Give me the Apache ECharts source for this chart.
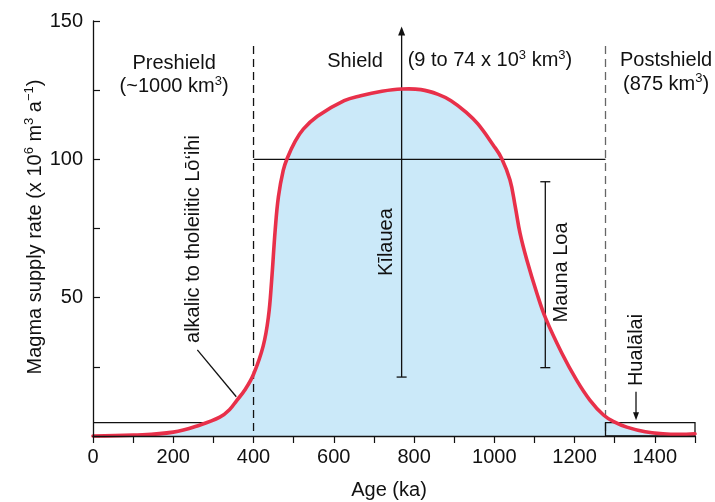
<!DOCTYPE html>
<html><head><meta charset="utf-8">
<script src="https://cdn.jsdelivr.net/npm/echarts@6/dist/echarts.min.js"></script>
<style>html,body{margin:0;padding:0;background:#fff}#chart{width:715px;height:502px}</style>
</head><body><div id="chart"></div>
<script>
// ---- data ----
const ages  = [0, 100, 200, 267, 316, 340, 358, 380, 400, 424, 437, 445, 454, 462, 474, 484, 503, 524, 559, 626, 667, 720, 769, 817, 860, 892, 930, 959, 997, 1018, 1039, 1052, 1064, 1081, 1106, 1128, 1168, 1205, 1238, 1272, 1300, 1330, 1376, 1420, 1460, 1500];
const rates = [0, 0.3, 1.4, 4.0, 6.8, 9.5, 12.8, 17.0, 22.3, 32.5, 43, 56, 74.5, 86.5, 96, 100.4, 106.3, 110.9, 115.6, 121.2, 123, 124.6, 125.4, 125.2, 123.5, 121.2, 117, 112.8, 105.2, 100.4, 92.5, 83, 73.3, 63.6, 51.6, 42.5, 30, 20.2, 13, 7.6, 5, 3.2, 1.5, 0.8, 0.6, 0.8];
const xTickLabels = ['0', '200', '400', '600', '800', '1000', '1200', '1400'];
const yTickLabels = ['50', '100', '150'];
const phaseBoundaries = [400, 1277];      // ka: preshield/shield, shield/postshield
const phaseLineTop = 141;                 // rate at top of dashed lines
const shieldRate = 100;                   // horizontal line across shield stage
const preshieldBox = [0, 400, 4.8];       // from, to, rate
const postshieldBox = [1277, 1500, 4.8];  // from, to, rate
const kilauea = [769, 21.3, 148];         // age, low, high (arrow)
const maunaLoa = [1127, 24.7, 91.9];      // age, low, high
const hualalai = [1353, 16, 5.7];         // age, arrow from, arrow to
const loihiLeader = [[260, 31.1], [357, 14.2]];

const FONT = '"Liberation Sans", Arial, Helvetica, sans-serif';
const INK = '#111';
const RED = '#e8304a';
const FILL = '#cbe9f9';
const SMOOTH = 0.4;

const richStyle = {
  n: { fontSize: 20, fontFamily: FONT, lineHeight: 24, fill: INK, color: INK },
  s: { fontSize: 13, fontFamily: FONT, lineHeight: 14, verticalAlign: 'top', fill: INK, color: INK }
};

// text annotations: [text, age, rate, rotated]
const labels = [
  ['{n|Preshield}', 202, 134.8, false],
  ['{n|(~1000 km}{s|3}{n|)}', 202, 126.3, false],
  ['{n|Shield}', 653, 135.2, false],
  ['{n|(9 to 74 x 10}{s|3}{n| km}{s|3}{n|)}', 989, 135.6, false],
  ['{n|Postshield}', 1428, 135.6, false],
  ['{n|(875 km}{s|3}{n|)}', 1428, 127.2, false],
  ['{n|alkalic to tholeiitic Lō‘ihi}', 250, 71.2, true],
  ['{n|Kīlauea}', 732, 70.1, true],
  ['{n|Mauna Loa}', 1168, 59.1, true],
  ['{n|Hualālai}', 1353, 31.1, true]
];

const pairs = ages.map((a, i) => [a, rates[i]]);

function seg(p1, p2, style) {
  return { type: 'line', shape: { x1: p1[0], y1: p1[1], x2: p2[0], y2: p2[1] },
           style: Object.assign({ stroke: INK, lineWidth: 1.3, fill: null }, style || {}) };
}

function renderBelow(params, api) {
  const c = (x, y) => api.coord([x, y]);
  return { type: 'group', children: [
    seg(c(preshieldBox[0], preshieldBox[2]), c(preshieldBox[1], preshieldBox[2]))
  ]};
}

function renderFill(params, api) {
  const pts = pairs.map(p => api.coord(p));
  const last = ages[ages.length - 1], first = ages[0];
  pts.push(api.coord([last, 0]), api.coord([(first + last) / 2, 0]));
  return { type: 'polygon', shape: { points: pts, smooth: SMOOTH }, style: { fill: FILL, stroke: null } };
}

function renderCurve(params, api) {
  const pts = pairs.map(p => api.coord(p));
  return { type: 'polyline', shape: { points: pts, smooth: SMOOTH },
           style: { fill: null, stroke: RED, lineWidth: 3.6, lineJoin: 'round', lineCap: 'round' } };
}

function renderAnno(params, api) {
  const c = (x, y) => api.coord([x, y]);
  const ch = [];
  phaseBoundaries.forEach((a, i) => {
    ch.push(seg(c(a, phaseLineTop), c(a, 0), { stroke: i === 0 ? INK : '#666', lineDash: [8, 5], lineWidth: 1.3 }));
  });
  ch.push(seg(c(phaseBoundaries[0], shieldRate), c(phaseBoundaries[1], shieldRate)));
  // postshield box
  const b0 = c(postshieldBox[0], 0), b1 = c(postshieldBox[1], postshieldBox[2]);
  ch.push({ type: 'rect', shape: { x: b0[0], y: b1[1], width: b1[0] - b0[0], height: b0[1] - b1[1] },
            style: { stroke: INK, lineWidth: 1.3, fill: null } });
  // Kilauea arrow
  const kLo = c(kilauea[0], kilauea[1]), kHi = c(kilauea[0], kilauea[2]);
  ch.push(seg(kLo, [kHi[0], kHi[1] + 6]));
  ch.push({ type: 'polygon', shape: { points: [[kHi[0], kHi[1]], [kHi[0] - 3.5, kHi[1] + 9], [kHi[0] + 3.5, kHi[1] + 9]] }, style: { fill: INK } });
  ch.push(seg([kLo[0] - 5, kLo[1]], [kLo[0] + 5, kLo[1]]));
  // Mauna Loa range bar
  const mLo = c(maunaLoa[0], maunaLoa[1]), mHi = c(maunaLoa[0], maunaLoa[2]);
  ch.push(seg(mLo, mHi));
  ch.push(seg([mLo[0] - 5, mLo[1]], [mLo[0] + 5, mLo[1]]));
  ch.push(seg([mHi[0] - 5, mHi[1]], [mHi[0] + 5, mHi[1]]));
  // Hualalai arrow
  const hFrom = c(hualalai[0], hualalai[1]), hTo = c(hualalai[0], hualalai[2]);
  ch.push(seg(hFrom, [hTo[0], hTo[1] - 5]));
  ch.push({ type: 'polygon', shape: { points: [[hTo[0], hTo[1]], [hTo[0] - 3, hTo[1] - 8], [hTo[0] + 3, hTo[1] - 8]] }, style: { fill: INK } });
  // Loihi leader
  ch.push(seg(c(loihiLeader[0][0], loihiLeader[0][1]), c(loihiLeader[1][0], loihiLeader[1][1])));
  // text labels
  labels.forEach(([t, a, r, rot]) => {
    const p = c(a, r);
    ch.push({ type: 'text', x: p[0], y: p[1], rotation: rot ? Math.PI / 2 : 0,
              style: { text: t, rich: richStyle, align: 'center', verticalAlign: 'middle', fill: INK, font: '20px ' + FONT } });
  });
  return { type: 'group', children: ch };
}

const chart = echarts.init(document.getElementById('chart'), null, { renderer: 'canvas' });
chart.setOption({
  animation: false,
  backgroundColor: '#fff',
  grid: { left: 93, right: 20, top: 21, bottom: 66, containLabel: false },
  xAxis: {
    type: 'value', min: 0, max: 1500, interval: 100, z: 10,
    axisLine: { show: true, onZero: false, lineStyle: { color: INK, width: 1.3 } },
    axisTick: { show: true, inside: false, length: 7, lineStyle: { color: INK, width: 1.2 } },
    axisLabel: { show: true, margin: 11, fontSize: 20, fontFamily: FONT, color: INK,
                 showMinLabel: true, showMaxLabel: true, hideOverlap: false,
                 formatter: v => xTickLabels.includes(String(v)) ? String(v) : '' },
    splitLine: { show: false }
  },
  yAxis: {
    type: 'value', min: 0, max: 150, interval: 25, z: 10,
    axisLine: { show: true, onZero: false, lineStyle: { color: INK, width: 1.3 } },
    axisTick: { show: true, inside: true, length: 7, lineStyle: { color: INK, width: 1.2 } },
    axisLabel: { show: true, margin: 10, fontSize: 20, fontFamily: FONT, color: INK,
                 showMinLabel: true, showMaxLabel: true, hideOverlap: false,
                 formatter: v => yTickLabels.includes(String(v)) ? String(v) : '' },
    splitLine: { show: false }
  },
  graphic: [
    { type: 'text', x: 35, y: 227, rotation: Math.PI / 2,
      style: { text: '{n|Magma supply rate (x 10}{s|6}{n| m}{s|3}{n| a}{s|−1}{n|)}', rich: richStyle,
               align: 'center', verticalAlign: 'middle', fill: INK, font: '20px ' + FONT } },
    { type: 'text', x: 389, y: 490,
      style: { text: 'Age (ka)', align: 'center', verticalAlign: 'middle', fill: INK, font: '20px ' + FONT } }
  ],
  series: [
    { type: 'custom', z: 1, renderItem: renderBelow, data: [[0, 0]], silent: true },
    { type: 'custom', z: 2, renderItem: renderFill, data: [[0, 0]], silent: true },
    { type: 'custom', z: 3, renderItem: renderAnno, data: [[0, 0]], silent: true },
    { type: 'custom', z: 4, renderItem: renderCurve, data: [[0, 0]], silent: true }
  ]
});
</script></body></html>
